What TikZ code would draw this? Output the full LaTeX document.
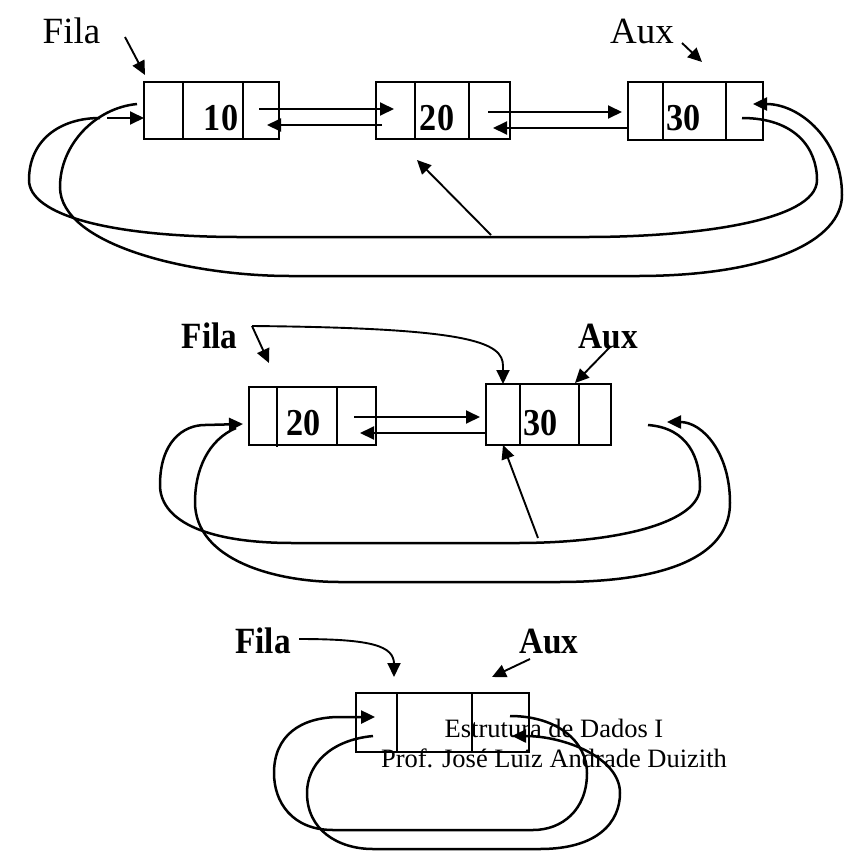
\documentclass[tikz,border=0pt]{standalone}
\usepackage{fontspec}
\setmainfont{Liberation Serif}
\newfontfamily\condfont[FakeStretch=0.9]{Liberation Serif}
\usetikzlibrary{arrows.meta}
\begin{document}
\begin{tikzpicture}[x=1pt,y=-1pt,
  cell/.style={draw,line width=1.8pt,inner sep=0pt,outer sep=0pt},
  lbl/.style={inner sep=0pt,anchor=base,font=\fontsize{37}{40}\selectfont},
  blbl/.style={inner sep=0pt,anchor=base,font=\fontsize{37}{40}\selectfont\condfont\bfseries},
  val/.style={inner sep=0pt,anchor=base,font=\fontsize{38}{40}\selectfont\condfont\bfseries},
  note/.style={inner sep=0pt,anchor=base,font=\fontsize{26.5}{30}\selectfont},
  arr/.style={line width=1.9pt,-{Triangle[length=14pt,width=13pt]}},
  loop/.style={line width=2.5pt},
  loopar/.style={line width=2.5pt,-{Triangle[length=14pt,width=13pt]}},
  divider/.style={line width=2.6pt}]
\useasboundingbox (0,0) rectangle (845,852);

% ================= top row =================
\node[lbl] (filaA) at (71.5,43) {Fila};
\node[lbl] (auxA) at (642,43) {Aux};
\node[cell,minimum width=39,minimum height=57] (t1a) at (163.5,110.5) {};
\node[cell,minimum width=60,minimum height=57] (t1b) at (213,110.5) {};
\node[cell,minimum width=36,minimum height=57] (t1c) at (261,110.5) {};
\node[cell,minimum width=39,minimum height=57] (t2a) at (395.5,110.5) {};
\node[cell,minimum width=54,minimum height=57] (t2b) at (442,110.5) {};
\node[cell,minimum width=41,minimum height=57] (t2c) at (489.5,110.5) {};
\node[cell,minimum width=35,minimum height=58] (t3a) at (645.5,111) {};
\node[cell,minimum width=63,minimum height=58] (t3b) at (694.5,111) {};
\node[cell,minimum width=37,minimum height=58] (t3c) at (744.5,111) {};
\node[val] (v10) at (221,130) {10};
\node[val] (v20a) at (437,130) {20};
\node[val] (v30a) at (683.5,130) {30};

\coordinate (fA0) at (125,37);   \coordinate (fA1) at (145,75);
\coordinate (aA0) at (682,43);   \coordinate (aA1) at (702,62);
\coordinate (n12s) at (259,109); \coordinate (n12e) at (394,109);
\coordinate (p21s) at (382,125); \coordinate (p21e) at (267,125);
\coordinate (n23s) at (488,112); \coordinate (n23e) at (622,112);
\coordinate (p32s) at (628,128); \coordinate (p32e) at (493,128);
\coordinate (upS) at (491,235);  \coordinate (upE) at (417,160);
\coordinate (in1s) at (742,118); \coordinate (in1g) at (100,118);
\coordinate (in1a) at (107,118); \coordinate (in1e) at (144,118);
\coordinate (out1s) at (137,104); \coordinate (out1e) at (753,104);

\draw[arr] (fA0) -- (fA1);
\draw[arr] (aA0) -- (aA1);
\draw[arr] (n12s) -- (n12e);
\draw[arr] (p21s) -- (p21e);
\draw[arr] (n23s) -- (n23e);
\draw[arr] (p32s) -- (p32e);
\draw[arr] (upS) -- (upE);
% next of 30 -> first node
\draw[loop] (in1s) .. controls (795,118) and (817,148) .. (817,180)
  .. controls (817,222) and (690,237) .. (587,237) -- (240,237)
  .. controls (110,237) and (29,215) .. (29,180)
  .. controls (29,140) and (60,118) .. (in1g);
\draw[arr] (in1a) -- (in1e);
% prev of 10 -> last node
\draw[loopar] (out1s) .. controls (95,108) and (60,145) .. (60,187)
  .. controls (60,245) and (190,276) .. (290,276) -- (637,276)
  .. controls (770,276) and (842,240) .. (842,195)
  .. controls (842,140) and (800,104) .. (out1e);

% ================= middle row =================
\node[blbl] (filaB) at (209.5,348) {Fila};
\node[blbl] (auxB) at (608.5,348) {Aux};
\node[cell,minimum width=28,minimum height=58] (mA1) at (263,416) {};
\node[cell,minimum width=60,minimum height=58] (mA2) at (307,416) {};
\node[cell,minimum width=39,minimum height=58] (mA3) at (356.5,416) {};
\draw[divider] (277,390) -- (277,447);
\draw[divider] (337,387) -- (337,445);
\node[cell,minimum width=34,minimum height=61] (mB1) at (503,414.5) {};
\node[cell,minimum width=59,minimum height=61] (mB2) at (549.5,414.5) {};
\node[cell,minimum width=32,minimum height=61] (mB3) at (595,414.5) {};
\node[val] (v20b) at (303.5,435) {20};
\node[val] (v30b) at (540.5,435) {30};

\coordinate (fB0) at (252,326);  \coordinate (fB1) at (269,363);
\coordinate (fB2) at (503,384);
\coordinate (aB0) at (610,347);  \coordinate (aB1) at (575,383);
\coordinate (nABs) at (354,417); \coordinate (nABe) at (480,417);
\coordinate (pBAs) at (486,433); \coordinate (pBAe) at (360,433);
\coordinate (upBs) at (538,538); \coordinate (upBe) at (503,445);
\coordinate (in2s) at (648,425); \coordinate (in2e) at (243,424);
\coordinate (out2s) at (236,428); \coordinate (out2e) at (667,422);

\draw[arr] (fB0) -- (fB1);
\draw[arr] (fB0) .. controls (470,328) and (503,342) .. (503,366) -- (fB2);
\draw[arr] (aB0) -- (aB1);
\draw[arr] (nABs) -- (nABe);
\draw[arr] (pBAs) -- (pBAe);
\draw[arr] (upBs) -- (upBe);
\draw[loopar] (in2s) .. controls (688,428) and (700,458) .. (700,487)
  .. controls (700,522) and (620,543) .. (517,543) -- (293,543)
  .. controls (200,543) and (160,518) .. (160,485)
  .. controls (160,442) and (183,425) .. (205,425) -- (in2e);
\draw[loopar] (out2s) .. controls (208,440) and (195,470) .. (195,502)
  .. controls (195,560) and (275,582) .. (340,582) -- (558,582)
  .. controls (680,582) and (730,550) .. (730,503)
  .. controls (730,452) and (702,422) .. (out2e);

% ================= bottom row =================
\node[blbl] (filaC) at (263,653) {Fila};
\node[blbl] (auxC) at (549,653) {Aux};
\node[cell,line width=1.5pt,minimum width=41,minimum height=59] (bA1) at (376.5,722.5) {};
\node[cell,line width=1.5pt,minimum width=75,minimum height=59] (bA2) at (434.5,722.5) {};
\node[cell,line width=1.5pt,minimum width=57,minimum height=59] (bA3) at (500.5,722.5) {};
\draw[divider] (bA2.north west) -- (bA2.south west);
\draw[divider] (bA2.north east) -- (bA2.south east);

\coordinate (fC0) at (299,639);  \coordinate (fC1) at (394,677);
\coordinate (aC0) at (530,659);  \coordinate (aC1) at (492,677);
\coordinate (in3s) at (510,716); \coordinate (in3e) at (375,717);
\coordinate (out3s) at (373,736); \coordinate (out3e) at (512,736);

\draw[arr] (fC0) .. controls (372,639) and (394,646) .. (394,664) -- (fC1);
\draw[arr] (aC0) -- (aC1);
\draw[loopar] (in3s) .. controls (558,716) and (587,742) .. (587,773)
  .. controls (587,810) and (562,830) .. (533,830) -- (333,830)
  .. controls (292,830) and (274,802) .. (274,773)
  .. controls (274,736) and (300,717) .. (340,717) -- (in3e);
\draw[loopar] (out3s) .. controls (330,740) and (307,765) .. (307,793)
  .. controls (307,830) and (338,849) .. (373,849) -- (540,849)
  .. controls (598,849) and (620,822) .. (620,793)
  .. controls (620,758) and (565,736) .. (out3e);

\node[note] (title1) at (554,737) {Estrutura de Dados I};
\node[note] (title2) at (554,767) {Prof. José Luiz Andrade Duizith};
\end{tikzpicture}
\end{document}
